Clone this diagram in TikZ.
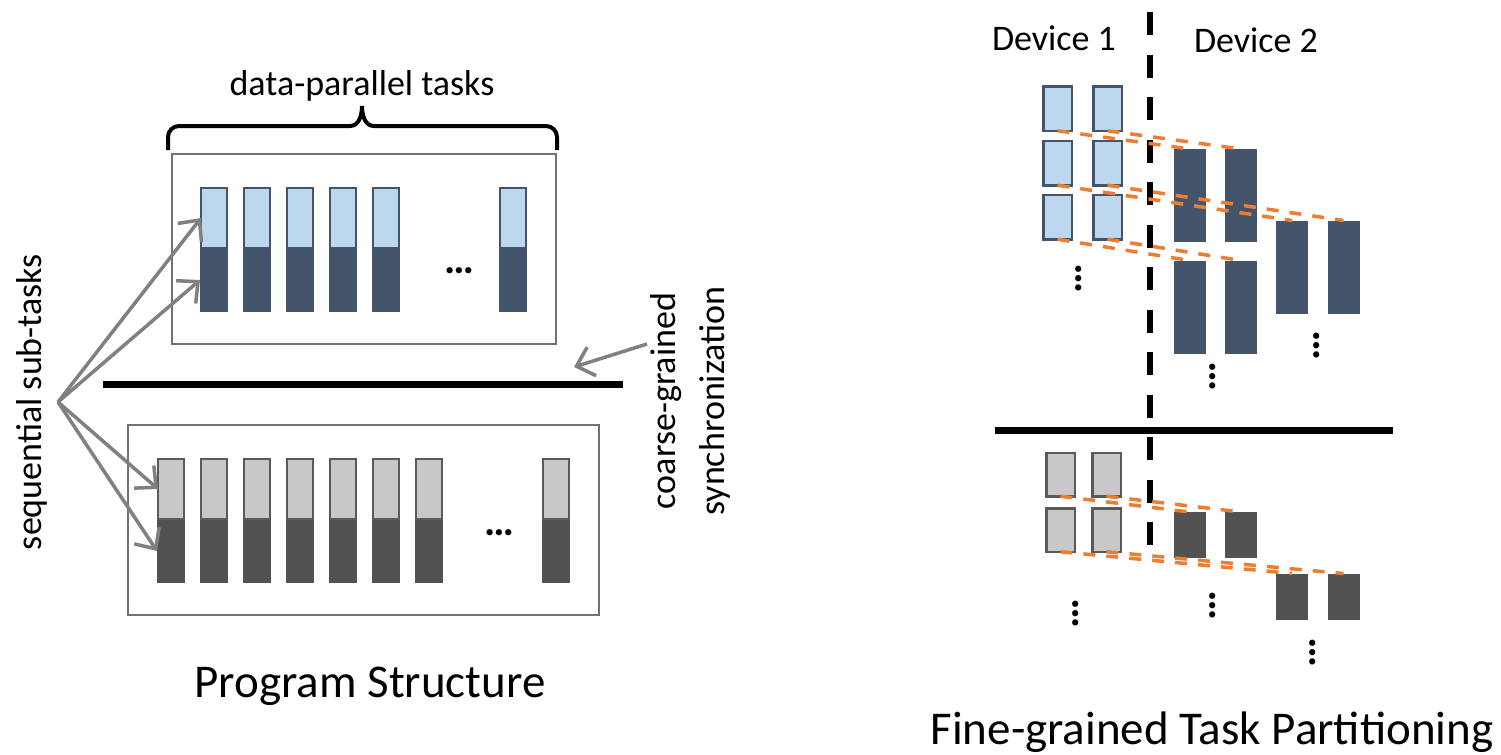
\documentclass[tikz,border=0pt]{standalone}
\usepackage{fontspec}
\setmainfont{Carlito}
\usetikzlibrary{arrows.meta,positioning}
\definecolor{slate}{HTML}{44546A}
\definecolor{skyblue}{HTML}{BDD7EE}
\definecolor{greylight}{HTML}{C8C8C8}
\definecolor{greydark}{HTML}{525252}
\definecolor{greyedge}{HTML}{5A5A5A}
\definecolor{arrowgrey}{HTML}{808080}
\definecolor{orangeline}{HTML}{ED7D31}

\begin{document}
\begin{tikzpicture}[x=0.5pt,y=-0.5pt,
		every node/.style={outer sep=0pt,inner sep=0pt},
		txt/.style={font=\fontsize{18}{24.5}\selectfont},
		title/.style={font=\fontsize{23.5}{28}\selectfont},
		dots/.style={font=\fontsize{21}{21}\selectfont\bfseries},
		frame/.style={draw=black!55,line width=0.7pt},
		bluetop/.style={draw=slate,fill=skyblue,line width=1pt,minimum width=13pt,minimum height=30pt},
		bluebot/.style={fill=slate,minimum width=14pt,minimum height=32pt},
		greytop/.style={draw=greyedge,fill=greylight,line width=1pt,minimum width=13pt,minimum height=30pt},
		greybot/.style={fill=greydark,minimum width=14pt,minimum height=32pt},
		bluebox/.style={draw=slate,fill=skyblue,line width=1.25pt,minimum width=14.25pt,minimum height=22.25pt},
		greybox/.style={draw=greyedge,fill=greylight,line width=1.25pt,minimum width=14.25pt,minimum height=21.75pt},
		devbox/.style={fill=slate,minimum width=16pt,minimum height=46.5pt},
		devgrey/.style={fill=greydark,minimum width=16pt,minimum height=23pt},
		pointer/.style={draw=arrowgrey,line width=1.75pt,-{Straight Barb[length=8pt,width=15pt]}},
		split/.style={draw=orangeline,line width=1.75pt,dash pattern=on 6pt off 5.5pt},
		sync/.style={line width=3.5pt}]
	\useasboundingbox (0,0) rectangle (1501,755);

	\draw[frame] (172,154) rectangle (556,344);
	\draw[frame] (128,425) rectangle (599,615);
	\foreach \x [count=\i] in {200,243,286,329,372,499} {
		\node[bluebot,anchor=north west] (tb\i) at (\x,248) {};
		\node[bluetop,anchor=south] (tt\i) at (tb\i.north) {};
	}
	\foreach \x [count=\i] in {157,200,243,286,329,372,415,542} {
		\node[greybot,anchor=north west] (gb\i) at (\x,519) {};
		\node[greytop,anchor=south] (gt\i) at (gb\i.north) {};
	}
	\node[dots] (hd1) at (459,271) {…};
	\node[dots] (hd2) at (499.5,533) {…};

	\draw[line width=2pt] (168,150) -- (168,137) to[out=90,in=180] (179,126) -- (350,126) to[out=0,in=-90] (362,106) to[out=-90,in=180] (374,126) -- (546,126) to[out=0,in=90] (557,137) -- (557,150);
	\node[txt,anchor=base] (dpt) at (362,95) {data-parallel tasks};

	\node[txt,rotate=90,anchor=base] (seq) at (41,402) {sequential sub-tasks};
	\coordinate (fan) at (58,402);
	\draw[pointer] (fan) -- (tt1.west);
	\draw[pointer] (fan) -- (tb1.west);
	\draw[pointer] (fan) -- (gt1.west);
	\draw[pointer] (fan) -- (gb1.west);

	\draw[sync] (103,384) -- (623,384);
	\node[txt,rotate=90,align=center] (cgs) at (690,401) {coarse-grained\\synchronization};
	\coordinate (cgsfrom) at (647,344);
	\coordinate (cgsto) at (574,367);
	\draw[pointer] (cgsfrom) -- (cgsto);

	\node[title,anchor=base] (ps) at (370,697) {Program Structure};

	\node[txt,anchor=base] (dev1) at (1054,50) {Device 1};
	\node[txt,anchor=base] (dev2) at (1256,52) {Device 2};
	\draw[line width=3pt,dash pattern=on 11.5pt off 9.75pt] (1150,12) -- (1150,546);
	\draw[sync] (995,430) -- (1393,430);

	\node[bluebox] (b11) at (1057.5,108.5) {};
	\node[bluebox] (b12) at (1107.5,108.5) {};
	\node[bluebox] (b21) at (1057.5,163) {};
	\node[bluebox] (b22) at (1107.5,163) {};
	\node[bluebox] (b31) at (1057.5,217) {};
	\node[bluebox] (b32) at (1107.5,217) {};
	\node[devbox] (d11) at (1189.5,195.5) {};
	\node[devbox] (d12) at (1241,195.5) {};
	\node[devbox] (d31) at (1189.5,307) {};
	\node[devbox] (d32) at (1241,307) {};
	\node[devbox] (d21) at (1292,267) {};
	\node[devbox] (d22) at (1343.5,267) {};
	\draw[split] (b11.south) -- (d11.north);
	\draw[split] (b12.south) -- (d12.north);
	\draw[split] (b21.south) -- (d21.north);
	\draw[split] (b22.south) -- (d22.north);
	\draw[split] (b31.south) -- (d31.north);
	\draw[split] (b32.south) -- (d32.north);
	\node[dots,rotate=90] (vd1) at (1079,279) {…};
	\node[dots,rotate=90] (vd2) at (1213,377) {…};
	\node[dots,rotate=90] (vd3) at (1317,346) {…};

	\node[greybox] (g11) at (1060.5,474.5) {};
	\node[greybox] (g12) at (1106.5,474.5) {};
	\node[greybox] (g21) at (1060.5,530) {};
	\node[greybox] (g22) at (1106.5,530) {};
	\node[devgrey] (h11) at (1189.5,535) {};
	\node[devgrey] (h12) at (1241,535) {};
	\node[devgrey] (h21) at (1292,596.5) {};
	\node[devgrey] (h22) at (1343.5,596.5) {};
	\draw[split] (g11.south) -- (h11.north);
	\draw[split] (g12.south) -- (h12.north);
	\draw[split] (g21.south) -- (h21.north);
	\draw[split] (g22.south) -- (h22.north);
	\node[dots,rotate=90] (vd4) at (1076,614) {…};
	\node[dots,rotate=90] (vd5) at (1213,606) {…};
	\node[dots,rotate=90] (vd6) at (1313,653) {…};

	\node[title,anchor=base] (ftp) at (1212,744) {Fine-grained Task Partitioning};
\end{tikzpicture}
\end{document}
